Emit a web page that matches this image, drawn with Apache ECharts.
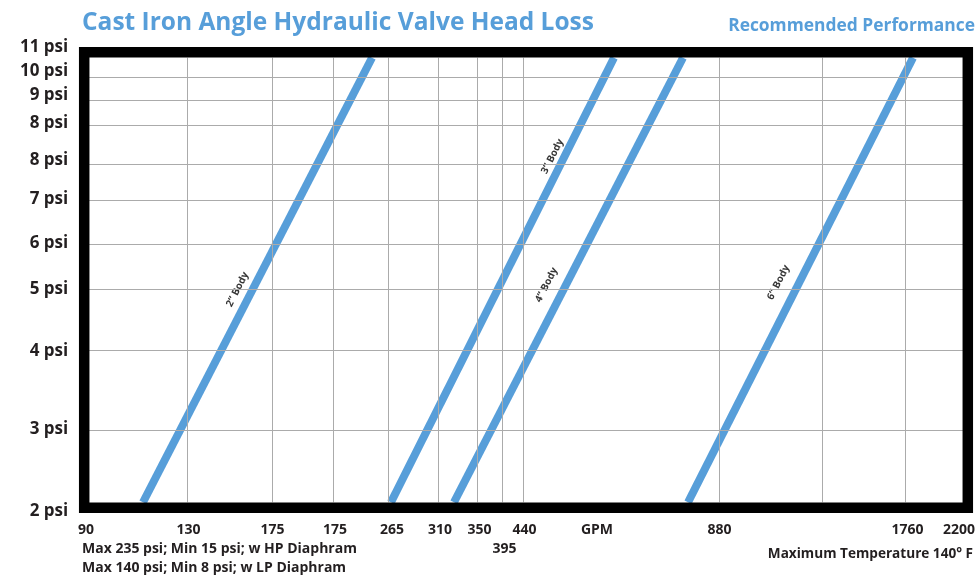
<!DOCTYPE html>
<html>
<head>
<meta charset="utf-8">
<title>Cast Iron Angle Hydraulic Valve Head Loss</title>
<script src="https://cdn.jsdelivr.net/npm/echarts@6/dist/echarts.min.js"></script>
<style>
  html, body { margin: 0; padding: 0; background: #fff; }
  #chart { width: 978px; height: 582px; }
</style>
</head>
<body>
<div id="chart"></div>
<script>
// chart positions are in plot units: 0..100 across and up the framed area
const xGridPos = [11.21, 20.94, 27.92, 34.21, 39.93, 44.39, 47.25, 49.66, 72.08, 83.87, 93.36]
const xTickPos = [-0.34, 11.38, 21.0, 28.15, 34.67, 40.16, 44.68, 47.54, 49.83, 58.12, 72.14, 93.65, 99.54]
const xTickLabels = ['90', '130', '175', '175', '265', '310', '350', '395', '440', 'GPM', '880', '1760', '2200']

const yGridPos = [16.2, 34.2, 47.9, 58.0, 68.0, 76.0, 84.9, 90.5, 95.7]
const yTickPos = [-1.9, 16.5, 34.1, 48.0, 58.4, 68.2, 76.9, 85.4, 91.5, 97.1, 102.4]
const yTickLabels = ['2 psi', '3 psi', '4 psi', '5 psi', '6 psi', '7 psi', '8 psi', '8 psi', '9 psi', '10 psi', '11 psi']

const bodyNames = ['2\u201D Body', '3\u201D Body', '4\u201D Body', '6\u201D Body']
// where each body curve enters at the bottom (2 psi) and leaves at the top (11 psi)
const bodyBottom = [6.18, 34.55, 41.76, 68.54]
const bodyTop = [32.38, 60.07, 67.96, 94.28]
const bodyLabelAt = [[16.99, 47.86], [53.03, 77.79], [52.35, 48.87], [78.89, 49.44]]

const BLUE = '#579ed9'
const INK = '#231f20'
const FONT = 'Open Sans'

const chart = echarts.init(document.getElementById('chart'))

const gridLines = [
  ...xGridPos.map(x => [{ coord: [x, 0] }, { coord: [x, 100] }]),
  ...yGridPos.map(y => [{ coord: [0, y] }, { coord: [100, y] }])
]

const labelFor = (pos, labels) => v => {
  const i = pos.findIndex(p => Math.abs(p - v) < 1e-6)
  return i < 0 ? '' : labels[i]
}

const text = (x, y, str, size, color, align) => ({
  type: 'text',
  x,
  y,
  silent: true,
  style: {
    text: str,
    fill: color,
    fontFamily: FONT,
    fontWeight: 'bold',
    fontSize: size,
    align: align || 'left',
    verticalAlign: 'middle'
  }
})

const option = {
  animation: false,
  grid: {
    left: 80.26,
    width: 891.48,
    top: 40,
    height: 480,
    outerBoundsMode: 'none'
  },
  xAxis: {
    type: 'value',
    min: -1,
    max: 101,
    axisLine: { show: false },
    axisTick: { show: false },
    splitLine: { show: false },
    axisLabel: {
      customValues: xTickPos,
      formatter: v => {
        const t = labelFor(xTickPos, xTickLabels)(v)
        return t === '395' ? '\n395' : t
      },
      margin: 0,
      color: INK,
      fontFamily: FONT,
      fontWeight: 'bold',
      fontSize: 14,
      lineHeight: 19.5
    }
  },
  yAxis: {
    type: 'value',
    min: -4,
    max: 104,
    axisLine: { show: false },
    axisTick: { show: false },
    splitLine: { show: false },
    axisLabel: {
      customValues: yTickPos,
      formatter: labelFor(yTickPos, yTickLabels),
      margin: 12,
      color: INK,
      fontFamily: FONT,
      fontWeight: 'bold',
      fontSize: 17
    }
  },
  series: [
    {
      type: 'line',
      name: 'grid',
      data: [],
      z: 1,
      silent: true,
      markLine: {
        silent: true,
        symbol: ['none', 'none'],
        label: { show: false },
        lineStyle: { color: '#ababab', width: 1, type: 'solid' },
        data: gridLines
      }
    },
    ...bodyNames.map((name, i) => ({
      type: 'line',
      name,
      z: 3,
      silent: true,
      symbol: 'none',
      lineStyle: { color: BLUE, width: 8, cap: 'butt' },
      data: [[bodyBottom[i], 0], [bodyTop[i], 100]]
    })),
    {
      type: 'scatter',
      name: 'labels',
      z: 4,
      silent: true,
      symbolSize: 0,
      data: bodyNames.map((name, i) => ({ name, value: bodyLabelAt[i] })),
      label: {
        show: true,
        position: 'inside',
        formatter: '{b}',
        rotate: 63,
        color: '#000',
        fontFamily: FONT,
        fontWeight: 'bold',
        fontSize: 10
      }
    }
  ],
  graphic: [
    {
      type: 'rect',
      z: 100,
      silent: true,
      shape: { x: 84.2, y: 52.3, width: 883.6, height: 455.4 },
      style: { fill: null, stroke: '#000', lineWidth: 10.5 }
    },
    text(82, 23.5, 'Cast Iron Angle Hydraulic Valve Head Loss', 24.5, BLUE),
    text(975, 26, 'Recommended Performance', 17.4, BLUE, 'right'),
    text(82, 549.5, 'Max 235 psi; Min 15 psi; w HP Diaphram', 14, INK),
    text(82, 568.5, 'Max 140 psi; Min 8 psi; w LP Diaphram', 14, INK),
    text(973, 554.5, 'Maximum Temperature 140\u00B0 F', 13.6, INK, 'right')
  ]
}

chart.setOption(option)

window.addEventListener('resize', () => chart.resize())
</script>
</body>
</html>
